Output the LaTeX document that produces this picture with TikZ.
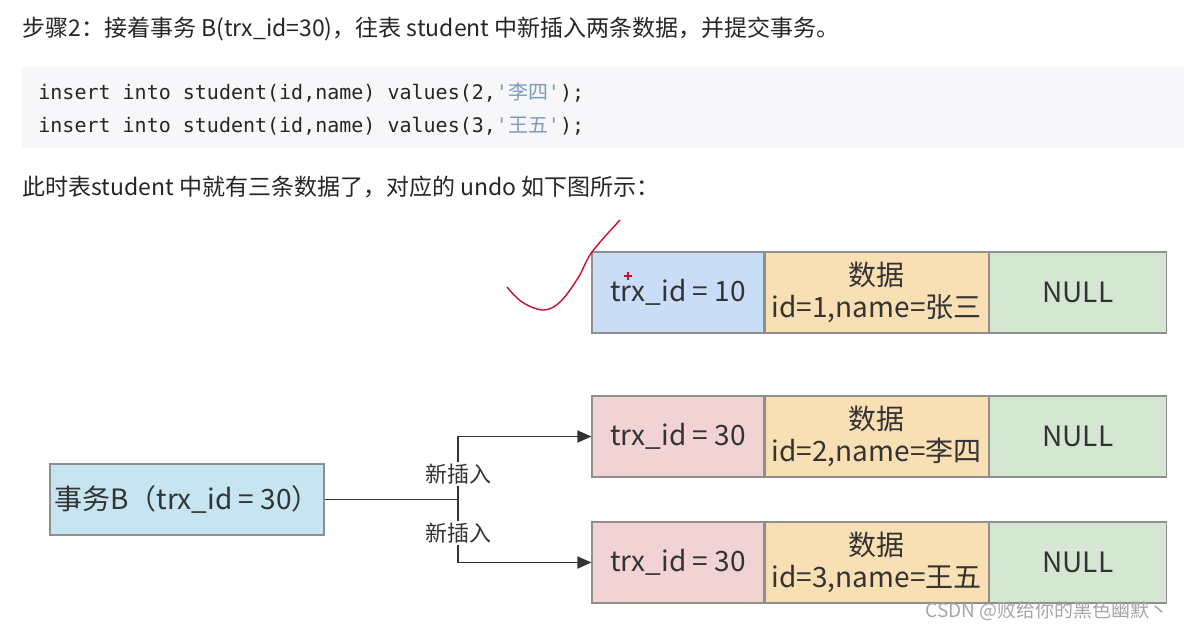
\documentclass[tikz,border=0pt]{standalone}
\usepackage{fontspec}
\setmainfont{Noto Sans CJK SC}
\setmonofont{DejaVu Sans Mono}
\newfontfamily\cjk{Noto Sans CJK SC}
\usetikzlibrary{positioning,arrows.meta}

\definecolor{idblue}{HTML}{C9DDF7}
\definecolor{idpink}{HTML}{F2D3D3}
\definecolor{datorange}{HTML}{F8DFB4}
\definecolor{nullgreen}{HTML}{D5E7D3}
\definecolor{trxblue}{HTML}{C6E5F0}
\definecolor{cellline}{HTML}{8F8F8F}
\definecolor{codebg}{HTML}{F7F7F9}
\definecolor{codestr}{HTML}{7E9CB9}
\definecolor{inkred}{HTML}{C8102E}

\tikzset{
  cell/.style={draw=cellline, line width=0.6pt, minimum height=40.5pt,
    inner sep=0pt, text=black!80, align=center,
    font=\fontsize{14}{16}\selectfont},
  idcell/.style={cell, minimum width=86pt},
  datcell/.style={cell, fill=datorange, minimum width=111.5pt},
  nullcell/.style={cell, fill=nullgreen, minimum width=88.5pt},
  prose/.style={anchor=base west, inner sep=0pt, text=black!85,
    font=\fontsize{11.5}{13}\selectfont},
  codeline/.style={anchor=base west, inner sep=0pt, text=black!85,
    font=\ttfamily\fontsize{10}{12}\selectfont},
  ins/.style={-{Triangle[length=7pt,width=6pt]}, line width=0.9pt, draw=black!80},
  lbl/.style={fill=white, inner sep=1pt, text=black!80,
    font=\fontsize{11}{13}\selectfont},
}

\begin{document}
\begin{tikzpicture}[x=0.5pt,y=-0.5pt]
  \useasboundingbox (0,0) rectangle (1184,631);

  % Text above the figure
  \node[prose] (step) at (22,37)
    {步骤2：接着事务 B(trx\_id=30)，往表 student 中新插入两条数据，并提交事务。};
  \fill[codebg] (22,67) rectangle (1184,148);
  \node[codeline] (sql1) at (38,100)
    {insert into student(id,name) values(2,\textcolor{codestr}{'{\cjk 李四}'});};
  \node[codeline] (sql2) at (38,133)
    {insert into student(id,name) values(3,\textcolor{codestr}{'{\cjk 王五}'});};
  \node[prose] (note) at (22,196)
    {此时表student 中就有三条数据了，对应的 undo 如下图所示：};

  % Undo records
  \node[idcell, fill=idblue] (r1id) at (678,292.5) {trx\_id = 10};
  \node[datcell, right=0pt of r1id] (r1dat) {数据\\id=1,name=张三};
  \node[nullcell, right=0pt of r1dat] (r1null) {NULL};

  \node[idcell, fill=idpink] (r2id) at (678,436.5) {trx\_id = 30};
  \node[datcell, right=0pt of r2id] (r2dat) {数据\\id=2,name=李四};
  \node[nullcell, right=0pt of r2dat] (r2null) {NULL};

  \node[idcell, fill=idpink] (r3id) at (678,562.5) {trx\_id = 30};
  \node[datcell, right=0pt of r3id] (r3dat) {数据\\id=3,name=王五};
  \node[nullcell, right=0pt of r3dat] (r3null) {NULL};

  % Transaction B and its inserts
  \node[cell, fill=trxblue, minimum width=137pt, minimum height=35.5pt]
    (trxb) at (187,499.5) {事务B（trx\_id = 30）};
  \coordinate (fork) at (458,499.5);
  \draw[line width=0.9pt, draw=black!80] (trxb.east) -- (fork);
  \draw[ins] (fork) |- (r2id.west);
  \draw[ins] (fork) |- (r3id.west);
  \node[lbl] (ins2) at (458,474) {新插入};
  \node[lbl] (ins3) at (458,533) {新插入};

  % Red hand mark
  \draw[inkred, line width=0.7pt] plot[smooth, tension=0.6] coordinates {
    (507,287) (522,302) (543,310) (560,302) (578,278) (592,252) (620,220)
  };
  \draw[inkred, line width=0.6pt] (624,276) -- (632,276) (628,272) -- (628,280);

  % Watermark
  \node[anchor=base west, inner sep=0pt, text=black!35,
    font=\fontsize{9.5}{11}\selectfont] (mark) at (925,617)
    {CSDN @败给你的黑色幽默丶};

\end{tikzpicture}
\end{document}
